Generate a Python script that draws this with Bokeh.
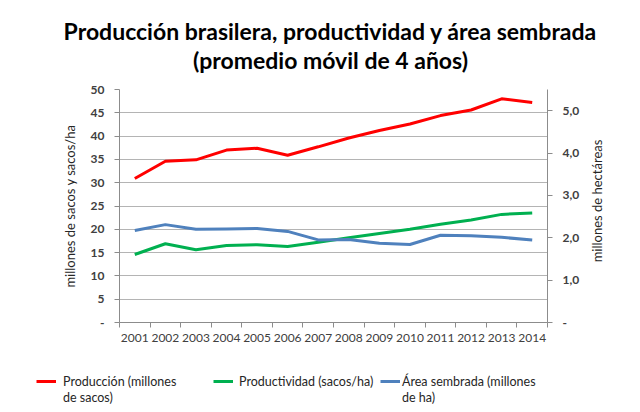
import math
from bokeh.plotting import figure
from bokeh.layouts import row
from bokeh.models import Range1d, LinearAxis, FixedTicker, Legend, LegendItem, Label
from bokeh.embed import file_html
from bokeh.resources import INLINE

years = [2001, 2002, 2003, 2004, 2005, 2006, 2007, 2008, 2009, 2010, 2011, 2012, 2013, 2014]
year_labels = [str(y) for y in years]
produccion = [30.9, 34.6, 34.9, 37.0, 37.4, 35.9, 37.7, 39.6, 41.2, 42.6, 44.4, 45.6, 48.0, 47.2]
productividad = [14.6, 16.9, 15.6, 16.5, 16.7, 16.3, 17.2, 18.2, 19.1, 20.0, 21.1, 22.0, 23.2, 23.5]
area = [2.17, 2.31, 2.20, 2.21, 2.22, 2.15, 1.95, 1.96, 1.87, 1.84, 2.06, 2.05, 2.01, 1.95]

left_ticks = [0, 5, 10, 15, 20, 25, 30, 35, 40, 45, 50]
left_tick_labels = ["-", "5", "10", "15", "20", "25", "30", "35", "40", "45", "50"]
right_ticks = [0, 1, 2, 3, 4, 5]
right_tick_labels = ["-", "1,0", "2,0", "3,0", "4,0", "5,0"]

title_lines = ["Producción brasilera, productividad y área sembrada", "(promedio móvil de 4 años)"]
left_label = "millones de sacos y sacos/ha"
right_label = "millones de hectáreas"
legend_lines = [("Producción (millones", "de sacos)"), ("Productividad (sacos/ha)", None),
                ("Área sembrada (millones", "de ha)")]
series = [produccion, productividad, area]
series_colors = ["#ff0000", "#00b050", "#4f81bd"]

FONT = "Lato"
GRID = "#b4b4b4"
AXIS = "#8c8c8c"
TXT = "#262626"
W = 636
PW = 584           # main chart width; the strip to its right holds the right axis title
HEAD_H = 79        # title strip height
TOP, BOTTOM = 10, 41
FRAME_H = 233
H = TOP + FRAME_H + BOTTOM


def blank_strip(width, height, **borders):
    f = figure(width=width, height=height, output_backend="svg", toolbar_location=None,
               x_axis_location=None, y_axis_location=None,
               x_range=Range1d(0, 1), y_range=Range1d(0, 1), **borders)
    f.outline_line_color = None
    f.xgrid.visible = False
    f.ygrid.visible = False
    return f


# ---- title strip
hd = blank_strip(W, HEAD_H, min_border_left=0, min_border_right=0, min_border_top=0, min_border_bottom=0)
for txt, ty in zip(title_lines, [HEAD_H - 30, HEAD_H - 59]):
    hd.add_layout(Label(x=330, y=ty, x_units="screen", y_units="screen", text=txt,
                        text_align="center", text_baseline="middle", text_font=FONT,
                        text_font_style="bold", text_font_size="23px", text_color="#000000"))

# ---- main chart
p = figure(width=PW, height=H, output_backend="svg", toolbar_location=None,
           x_range=Range1d(years[0] - 0.5, years[-1] + 0.5), y_range=Range1d(0, 50),
           min_border_left=119, min_border_right=PW - 547, min_border_top=TOP, min_border_bottom=BOTTOM)
p.extra_y_ranges = {"right": Range1d(0, 5.5)}
p.outline_line_color = None
p.title = None

xa = p.xaxis[0]
xa.ticker = FixedTicker(ticks=years, minor_ticks=[y - 0.5 for y in years] + [years[-1] + 0.5])
xa.major_label_overrides = {y: l for y, l in zip(years, year_labels)}
xa.major_tick_out = 0
xa.major_tick_in = 0
xa.minor_tick_out = 5
xa.minor_tick_in = 0
xa.minor_tick_line_color = AXIS
xa.axis_line_color = AXIS
xa.major_label_text_font = FONT
xa.major_label_text_font_size = "12px"
xa.major_label_text_color = "#404040"
xa.major_label_standoff = 6

ya = p.yaxis[0]
ya.ticker = FixedTicker(ticks=left_ticks)
ya.major_label_overrides = {t: l for t, l in zip(left_ticks, left_tick_labels)}
ya.minor_tick_line_color = None
ya.major_tick_in = 0
ya.major_tick_out = 5
ya.major_tick_line_color = AXIS
ya.axis_line_color = AXIS
ya.major_label_text_font = FONT
ya.major_label_text_font_style = "bold"
ya.major_label_text_font_size = "12px"
ya.major_label_text_color = "#404040"
ya.major_label_standoff = 10
ya.axis_label = left_label
ya.axis_label_text_font = FONT
ya.axis_label_text_font_style = "normal"
ya.axis_label_text_font_size = "13px"
ya.axis_label_text_color = TXT
ya.axis_label_standoff = 10

ra = LinearAxis(y_range_name="right", ticker=FixedTicker(ticks=right_ticks))
ra.major_label_overrides = {t: l for t, l in zip(right_ticks, right_tick_labels)}
ra.minor_tick_line_color = None
ra.major_tick_in = 0
ra.major_tick_out = 5
ra.major_tick_line_color = AXIS
ra.axis_line_color = AXIS
ra.major_label_text_font = FONT
ra.major_label_text_font_style = "bold"
ra.major_label_text_font_size = "12px"
ra.major_label_text_color = "#404040"
ra.major_label_standoff = 10
p.add_layout(ra, "right")

p.xgrid.visible = False
p.ygrid.ticker = FixedTicker(ticks=left_ticks)
p.ygrid.grid_line_color = GRID
p.ygrid.grid_line_width = 1

p.line(years, produccion, line_color=series_colors[0], line_width=3)
p.line(years, productividad, line_color=series_colors[1], line_width=3)
p.line(years, area, line_color=series_colors[2], line_width=3, y_range_name="right")

# ---- narrow strip on the right carrying the right axis title (reads bottom to top)
rs = blank_strip(W - PW, H, min_border_left=0, min_border_right=0,
                 min_border_top=TOP, min_border_bottom=BOTTOM)
rs.add_layout(Label(x=12, y=FRAME_H / 2 + 5, x_units="screen", y_units="screen",
                    text=right_label, angle=math.pi / 2, text_align="center",
                    text_baseline="middle", text_font=FONT, text_font_size="13px",
                    text_color=TXT))

# ---- legend strip below the chart
lg = blank_strip(W, 45, min_border_left=0, min_border_right=0, min_border_top=0, min_border_bottom=0)
# proxies for the legend swatches: their data lies outside the strip's ranges
blank = lg.line(years, produccion, line_alpha=0)
legend_x = [36, 213, 380]
standoffs = [7, 6, 2]
for ys, color, (l1, l2), lx, so in zip(series, series_colors, legend_lines, legend_x, standoffs):
    proxy = lg.line(years, ys, line_color=color, line_width=3)
    items = [LegendItem(label=l1, renderers=[proxy])]
    if l2:
        items.append(LegendItem(label=l2, renderers=[blank]))
    loc_y = 3 if l2 else 19
    leg = Legend(items=items, location=(lx, loc_y), orientation="vertical",
                 padding=0, margin=0, spacing=0,
                 border_line_color=None, background_fill_alpha=0,
                 glyph_width=20, glyph_height=16, label_height=16, label_standoff=so,
                 label_text_font=FONT, label_text_font_size="12.5px", label_text_color=TXT)
    lg.add_layout(leg, "center")

top = row(p, rs, spacing=0)
open("out.html", "w").write(file_html([hd, top, lg], INLINE))
